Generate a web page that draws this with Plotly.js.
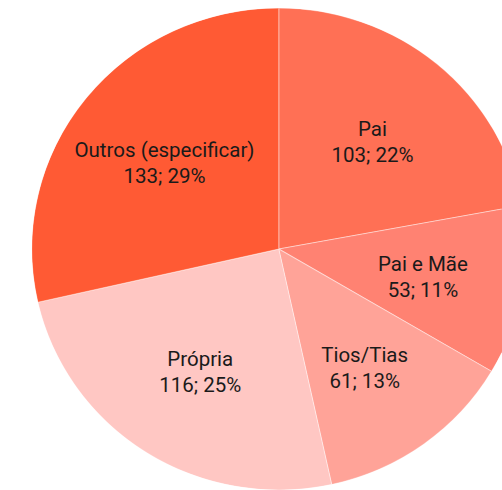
<!DOCTYPE html>
<html>
<head>
<meta charset="utf-8">
<script src="https://cdn.plot.ly/plotly-3.0.1.min.js"></script>
<style>
html, body { margin: 0; padding: 0; background: #fff; overflow: hidden; width: 502px; height: 490px; }
#chart { width: 544px; height: 490px; transform: scaleX(1.025); transform-origin: 0 0; }
</style>
</head>
<body>
<div id="chart"></div>
<script>
const categories = ["Pai", "Pai e Mãe", "Tios/Tias", "Própria", "Outros (especificar)"];
const counts = [103, 53, 61, 116, 133];
const sliceColors = ["#FF7055", "#FF8272", "#FFA398", "#FFC7C3", "#FF5A34"];

const total = counts.reduce((a, b) => a + b, 0);
const midAngles = [];
const sliceWidths = [];
const labelTexts = [];
let cum = 0;
counts.forEach((v, i) => {
  midAngles.push((cum + v / 2) / total * 360);
  sliceWidths.push(v / total * 360);
  cum += v;
  labelTexts.push(categories[i] + "<br>" + v + "; " + Math.round(v / total * 100) + "%");
});
const fullRadius = categories.map(() => 1);
const labelRadius = categories.map(() => 0.605);

const labelFont = { family: "Roboto, 'Open Sans', sans-serif", size: 20, color: "#1a1a1a" };

const slices = {
  type: "barpolar",
  subplot: "polar",
  r: fullRadius,
  theta: midAngles,
  width: sliceWidths,
  base: 0,
  marker: { color: sliceColors, line: { color: "rgba(255,255,255,0.4)", width: 1 } },
  hoverinfo: "none",
  showlegend: false
};

const labels = {
  type: "scatterpolar",
  subplot: "polar2",
  mode: "text",
  r: labelRadius,
  theta: midAngles,
  text: labelTexts,
  textposition: "middle center",
  textfont: labelFont,
  hoverinfo: "none",
  cliponaxis: false,
  showlegend: false
};

const hiddenRadial = { range: [0, 1], visible: false, showgrid: false, showline: false, showticklabels: false, ticks: "" };
const hiddenAngular = { rotation: 90, direction: "clockwise", visible: false, showgrid: false, showline: false, showticklabels: false, ticks: "" };

const layout = {
  width: 544,
  height: 490,
  margin: { l: 0, r: 0, t: 8, b: 0, pad: 0 },
  paper_bgcolor: "#ffffff",
  showlegend: false,
  polar: {
    domain: { x: [0, 1], y: [0, 1] },
    bgcolor: "rgba(0,0,0,0)",
    bargap: 0,
    radialaxis: hiddenRadial,
    angularaxis: hiddenAngular
  },
  polar2: {
    domain: { x: [0, 1], y: [0, 0.97925] },
    bgcolor: "rgba(0,0,0,0)",
    radialaxis: hiddenRadial,
    angularaxis: hiddenAngular
  }
};

Plotly.newPlot("chart", [slices, labels], layout, { staticPlot: true, displayModeBar: false });
</script>
</body>
</html>
